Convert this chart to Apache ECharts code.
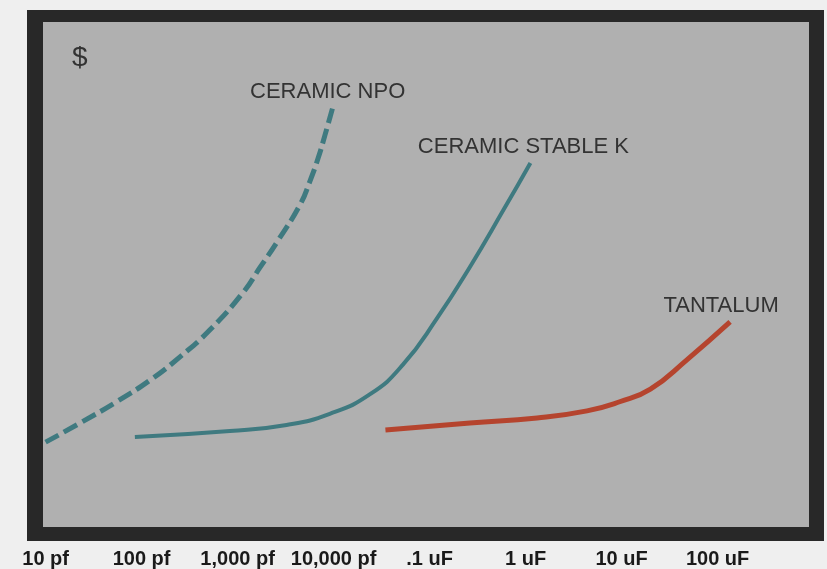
<!DOCTYPE html>
<html>
<head>
<meta charset="utf-8">
<script src="https://cdn.jsdelivr.net/npm/echarts@6/dist/echarts.min.js"></script>
<style>
html,body{margin:0;padding:0;background:#efefef;}
#chart{width:827px;height:569px;}
</style>
</head>
<body>
<div id="chart"></div>
<script>
// x = decades above 10 pF (0 = 10 pf ... 7 = 100 uF); y = relative cost
const tickLabels = ['10 pf', '100 pf', '1,000 pf', '10,000 pf', '.1 uF', '1 uF', '10 uF', '100 uF'];

const npoX = [0, 0.36, 0.74, 1.09, 1.40, 1.71, 2.06, 2.23, 2.41, 2.65, 2.75, 2.84, 2.91, 2.99];
const npoY = [16.8, 20.6, 24.8, 29.1, 33.7, 39.0, 46.5, 51.3, 56.4, 63.8, 68.3, 73.1, 77.6, 83.0];

const stableX = [0.93, 1.92, 2.51, 2.96, 3.38, 3.72, 4.08, 4.42, 4.77, 5.05];
const stableY = [17.8, 19.0, 20.2, 22.4, 26.3, 32.1, 41.4, 51.5, 62.8, 72.1];

const tantX = [3.54, 4.42, 5.12, 5.64, 5.98, 6.30, 6.68, 7.13];
const tantY = [19.2, 20.6, 21.6, 23.0, 24.8, 27.3, 33.1, 40.6];

const seriesNames = ['CERAMIC NPO', 'CERAMIC STABLE K', 'TANTALUM'];

function build(xs, ys, name, offset) {
  return xs.map((x, i) => {
    const item = { value: [x, ys[i]] };
    if (i === xs.length - 1) {
      item.label = {
        show: true, position: 'top', distance: 5, offset: offset,
        formatter: name, color: '#333', fontSize: 22,
        fontFamily: 'Liberation Sans, Arial, sans-serif'
      };
    }
    return item;
  });
}

function lineSeries(idx, xs, ys, color, width, type, offset) {
  return {
    name: seriesNames[idx], type: 'line', smooth: 0.5,
    symbol: 'circle', symbolSize: 0.1, showSymbol: true, showAllSymbol: true, clip: false,
    itemStyle: { color: 'rgba(0,0,0,0)' },
    lineStyle: { color: color, width: width, type: type },
    data: build(xs, ys, seriesNames[idx], offset)
  };
}

const chart = echarts.init(document.getElementById('chart'));
chart.setOption({
  animation: false,
  backgroundColor: '#efefef',
  graphic: [
    { type: 'rect', z: -10, silent: true, shape: { x: 27, y: 10, width: 797, height: 531 }, style: { fill: '#282828' } },
    { type: 'rect', z: -9, silent: true, shape: { x: 43, y: 22, width: 766, height: 505 }, style: { fill: '#b0b0b0' } },
    { type: 'text', z: 10, left: 72, top: 44, style: { text: '$', fontSize: 28, fill: '#333', fontFamily: 'Liberation Sans, Arial, sans-serif' } }
  ],
  grid: { left: 45.6, right: 13.4, top: 22, bottom: 42, containLabel: false },
  xAxis: {
    type: 'value', min: 0, max: 8, interval: 1,
    axisLine: { show: false }, axisTick: { show: false }, splitLine: { show: false },
    axisLabel: {
      margin: 22, color: '#1a1a1a', fontSize: 20, fontWeight: 'bold',
      fontFamily: 'Liberation Sans, Arial, sans-serif',
      formatter: v => tickLabels[v] || ''
    }
  },
  yAxis: {
    type: 'value', min: 0, max: 100,
    show: false, splitLine: { show: false }
  },
  series: [
    lineSeries(0, npoX, npoY, '#3f7a80', 5, [15, 6], [-5, 0]),
    lineSeries(1, stableX, stableY, '#3f7a80', 4, 'solid', [-7, 0]),
    lineSeries(2, tantX, tantY, '#b5442e', 5, 'solid', [-9, 0])
  ]
});
</script>
</body>
</html>
